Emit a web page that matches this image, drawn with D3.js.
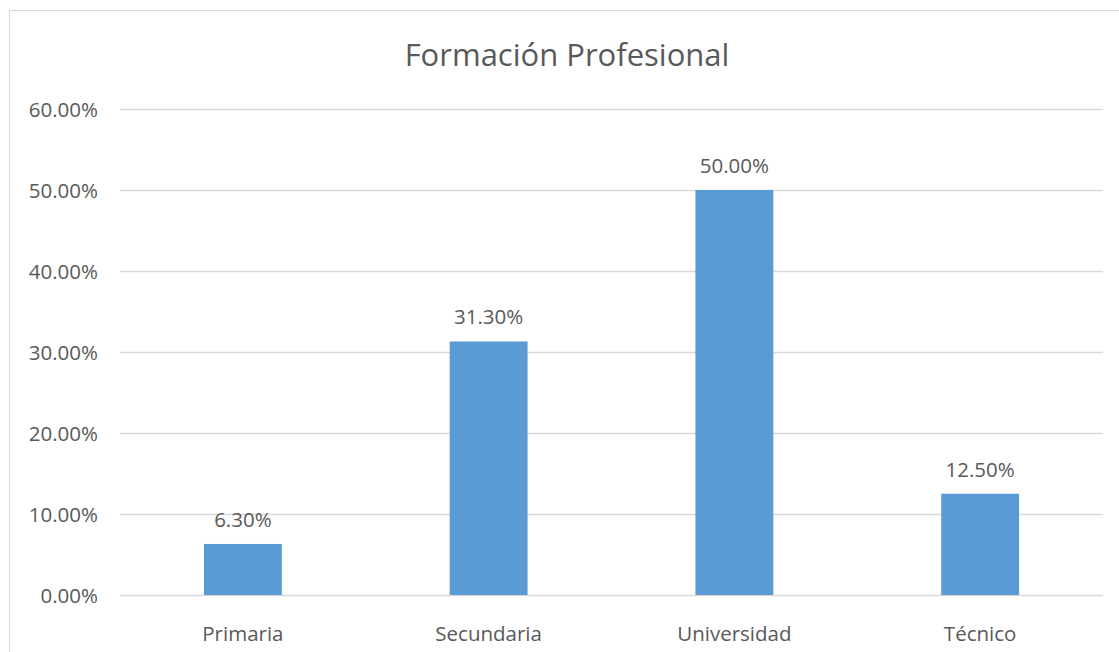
<!DOCTYPE html>
<html>
<head>
<meta charset="utf-8">
<script src="https://cdn.jsdelivr.net/npm/d3@7"></script>
<style>
  body { margin: 0; background: #fff; }
  text { font-family: "Open Sans", sans-serif; fill: #595959; }
</style>
</head>
<body>
<svg id="chart" width="1119" height="652"></svg>
<script>
var categories = ["Primaria", "Secundaria", "Universidad", "Técnico"];
var values = [0.063, 0.313, 0.50, 0.125];
var yTicks = [0, 0.1, 0.2, 0.3, 0.4, 0.5, 0.6];
var title = "Formación Profesional";

var svg = d3.select("#chart"),
    margin = { top: 109, right: 16, bottom: 57, left: 120 },
    width = +svg.attr("width") - margin.left - margin.right,
    height = +svg.attr("height") - margin.top - margin.bottom;

var data = categories.map(function (c, i) { return { cat: c, value: values[i] }; });
var pct = d3.format(".2%");
var fs = 20.5;

// chart border
svg.append("rect")
    .attr("x", 9.5).attr("y", 10.5)
    .attr("width", 1200).attr("height", 800)
    .attr("fill", "none")
    .attr("stroke", "#d9d9d9");

svg.append("text")
    .attr("x", 567).attr("y", 66)
    .attr("text-anchor", "middle")
    .attr("font-size", 31)
    .text(title);

var g = svg.append("g").attr("transform", "translate(" + margin.left + "," + margin.top + ")");

var x = d3.scaleBand()
    .domain(categories)
    .range([0, width])
    .paddingInner(0.683)
    .paddingOuter(0.3415);

var y = d3.scaleLinear()
    .domain([0, 0.6])
    .range([height, 0]);

// gridlines + y labels
var yAxis = g.append("g")
    .call(d3.axisLeft(y).tickValues(yTicks).tickSize(-width).tickFormat(pct).tickPadding(22));
yAxis.select(".domain").remove();
yAxis.selectAll(".tick line").attr("stroke", "#d9d9d9").attr("stroke-width", 1.3);
yAxis.selectAll(".tick text")
    .attr("font-size", fs)
    .attr("fill", "#595959")
    .attr("font-family", "'Open Sans', sans-serif")
    .attr("dy", "0.36em");

g.selectAll(".bar")
    .data(data)
    .enter().append("rect")
    .attr("class", "bar")
    .attr("x", function (d) { return x(d.cat); })
    .attr("y", function (d) { return y(d.value); })
    .attr("width", x.bandwidth())
    .attr("height", function (d) { return height - y(d.value); })
    .attr("fill", "#5b9bd5");

g.selectAll(".label")
    .data(data)
    .enter().append("text")
    .attr("class", "label")
    .attr("x", function (d) { return x(d.cat) + x.bandwidth() / 2; })
    .attr("y", function (d) { return y(d.value) - 17; })
    .attr("text-anchor", "middle")
    .attr("font-size", fs)
    .text(function (d) { return pct(d.value); });

var xAxis = g.append("g")
    .attr("transform", "translate(0," + height + ")")
    .call(d3.axisBottom(x).tickSize(0).tickPadding(31));
xAxis.select(".domain").remove();
xAxis.selectAll(".tick text")
    .attr("font-size", fs)
    .attr("fill", "#595959")
    .attr("font-family", "'Open Sans', sans-serif");
</script>
</body>
</html>
